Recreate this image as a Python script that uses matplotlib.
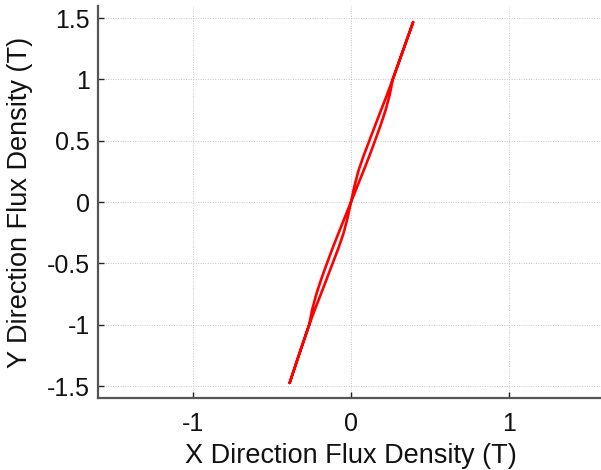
import matplotlib
matplotlib.use("Agg")
import matplotlib.pyplot as plt
import numpy as np

plt.rcParams["font.family"] = ["Liberation Sans", "DejaVu Sans"]
plt.rcParams["axes.unicode_minus"] = False

# Rising branch of the B-loop (Bx, By in tesla)
rise_by = [-1.475, -1.25, -1.0, -0.875, -0.75, -0.625, -0.5, -0.375, -0.25, -0.125, 0.0,
           0.125, 0.25, 0.375, 0.5, 0.625, 0.75, 0.875, 1.0, 1.25, 1.467]
rise_bx = [-0.388, -0.330, -0.264, -0.228, -0.190, -0.153, -0.116, -0.079, -0.046, -0.021, 0.0,
           0.021, 0.046, 0.079, 0.116, 0.153, 0.190, 0.228, 0.264, 0.333, 0.393]
# Falling branch of the B-loop
fall_by = [1.467, 1.25, 1.0, 0.875, 0.75, 0.625, 0.5, 0.375, 0.25, 0.125, 0.0,
           -0.125, -0.25, -0.375, -0.5, -0.625, -0.75, -0.875, -1.0, -1.25, -1.475]
fall_bx = [0.393, 0.333, 0.264, 0.245, 0.219, 0.187, 0.152, 0.116, 0.078, 0.039, 0.0,
           -0.039, -0.078, -0.116, -0.152, -0.187, -0.219, -0.245, -0.264, -0.330, -0.388]

x_ticks = [-1, 0, 1]
y_ticks = [-1.5, -1, -0.5, 0, 0.5, 1, 1.5]
x_ticklabels = ["-1", "0", "1"]
y_ticklabels = ["-1.5", "-1", "-0.5", "0", "0.5", "1", "1.5"]

fig = plt.figure(figsize=(6.01, 4.70), dpi=100)
ax = fig.add_axes([0.163, 0.1526, 0.842, 0.835])

bx = np.concatenate([rise_bx, fall_bx[1:]])
by = np.concatenate([rise_by, fall_by[1:]])
ax.plot(bx, by, color="#ff0000", linewidth=1.9, solid_joinstyle="round",
        solid_capstyle="round")

ax.set_xlim(-1.6, 1.6)
ax.set_ylim(-1.6, 1.6)
ax.set_xticks(x_ticks)
ax.set_xticklabels(x_ticklabels)
ax.set_yticks(y_ticks)
ax.set_yticklabels(y_ticklabels)

ax.grid(True, linestyle=(0, (1, 1.5)), color="#c4c4c4", linewidth=0.7)
ax.set_axisbelow(True)

for side in ("top", "right"):
    ax.spines[side].set_visible(False)
for side in ("left", "bottom"):
    ax.spines[side].set_color("#555555")
    ax.spines[side].set_linewidth(1.6)

ax.tick_params(axis="both", direction="in", length=4, width=1.0, color="#222222",
               labelsize=18, labelcolor="#111111")
ax.tick_params(axis="x", pad=10)
ax.tick_params(axis="y", pad=6)

ax.set_xlabel("X Direction Flux Density (T)", fontsize=19.5, color="#111111", labelpad=5)
ax.set_ylabel("Y Direction Flux Density (T)", fontsize=19.5, color="#111111", labelpad=10)

fig.savefig("out.png", dpi=100)
